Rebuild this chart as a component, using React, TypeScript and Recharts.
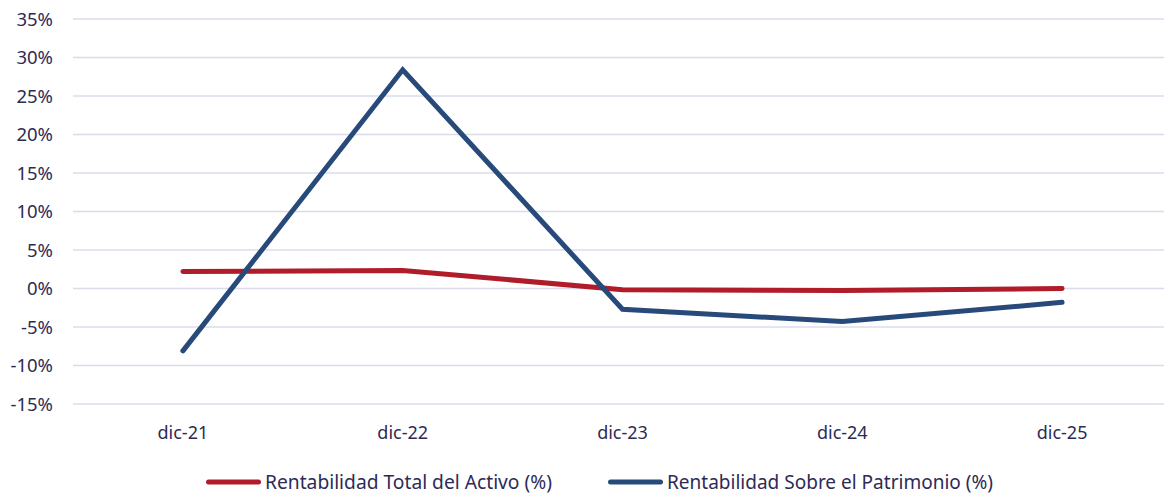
import React from "react";
import { LineChart, Line, XAxis, YAxis, CartesianGrid } from "recharts";

const categories = ["dic-21", "dic-22", "dic-23", "dic-24", "dic-25"];
const rentabilidadActivo = [2.2, 2.35, -0.15, -0.25, 0.0];
const rentabilidadPatrimonio = [-8.1, 28.4, -2.7, -4.3, -1.8];
const yTicks = [-15, -10, -5, 0, 5, 10, 15, 20, 25, 30, 35];
const seriesNames = ["Rentabilidad Total del Activo (%)", "Rentabilidad Sobre el Patrimonio (%)"];
const seriesColors = ["#B01C2A", "#284A7B"];

const data = categories.map((c, i) => ({
  cat: c,
  activo: rentabilidadActivo[i],
  patrimonio: rentabilidadPatrimonio[i],
}));

const FONT = "'Noto Sans', sans-serif";
const TEXT = "#2D2B55";

function LegendOverlay() {
  const items = [
    { name: seriesNames[0], color: seriesColors[0], x: 206, len: 287 },
    { name: seriesNames[1], color: seriesColors[1], x: 608, len: 326 },
  ];
  return (
    <svg width={1164} height={40} style={{ position: "absolute", left: 0, top: 462 }}>
      {items.map((it) => (
        <g key={it.name}>
          <line x1={it.x + 2.5} x2={it.x + 52.5} y1={20} y2={20} stroke={it.color} strokeWidth={5} strokeLinecap="round" />
          <text x={it.x + 59} y={26.5} fontFamily={FONT} fontSize={19} fill={TEXT} textLength={it.len} lengthAdjust="spacingAndGlyphs">
            {it.name}
          </text>
        </g>
      ))}
    </svg>
  );
}

export default function App() {
  return (
    <div style={{ position: "absolute", left: 0, top: 0, width: 1164, height: 493, overflow: "hidden", background: "#fff" }}>
      <LineChart width={1180} height={493} data={data} margin={{ top: 19, right: 8, left: 0, bottom: 59 }}>
        <CartesianGrid vertical={false} stroke="#DADCEC" strokeWidth={1.5} />
        <XAxis
          dataKey="cat"
          axisLine={false}
          tickLine={false}
          tickSize={0}
          tickMargin={22}
          height={30}
          padding={{ left: 109.9, right: 109.9 }}
          tick={{ fill: TEXT, fontSize: 18, fontFamily: FONT }}
          interval={0}
        />
        <YAxis
          width={73}
          domain={[-15, 35]}
          ticks={yTicks}
          axisLine={false}
          tickLine={false}
          tickSize={0}
          tickMargin={20}
          tickFormatter={(v) => `${v}%`}
          tick={{ fill: TEXT, fontSize: 18.5, fontFamily: FONT }}
          interval={0}
        />
        <Line
          dataKey="activo"
          name={seriesNames[0]}
          stroke={seriesColors[0]}
          strokeWidth={5}
          strokeLinecap="round"
          strokeLinejoin="miter"
          dot={false}
          activeDot={false}
          type="linear"
          isAnimationActive={false}
        />
        <Line
          dataKey="patrimonio"
          name={seriesNames[1]}
          stroke={seriesColors[1]}
          strokeWidth={5}
          strokeLinecap="round"
          strokeLinejoin="miter"
          dot={false}
          activeDot={false}
          type="linear"
          isAnimationActive={false}
        />
      </LineChart>
      <LegendOverlay />
    </div>
  );
}
